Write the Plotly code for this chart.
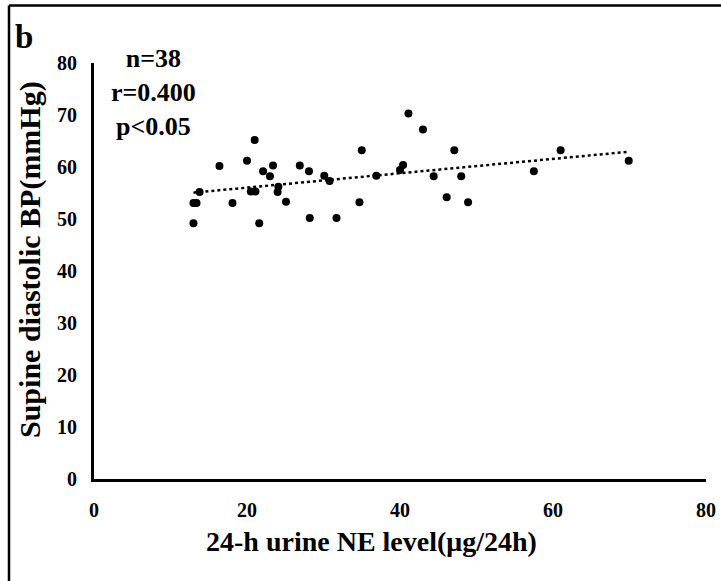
import numpy as np
import plotly.graph_objects as go

# 24-h urine NE (ug/24h) vs supine diastolic BP (mmHg)
ne_level = [21.0, 16.4, 20.0, 22.1, 23.4, 23.0, 26.9, 28.1, 30.1, 30.8,
            35.0, 36.9, 13.8, 13.0, 13.4, 18.1, 20.5, 21.1, 24.1, 24.0,
            25.1, 34.7, 28.2, 31.7, 13.0, 21.6, 41.1, 43.0, 47.1, 40.4,
            40.0, 44.4, 48.0, 46.1, 48.9, 57.5, 61.0, 69.9]
dbp = [65.2, 60.2, 61.2, 59.2, 60.3, 58.2, 60.3, 59.2, 58.3, 57.3,
       63.2, 58.3, 55.2, 53.1, 53.1, 53.1, 55.3, 55.3, 56.2, 55.2,
       53.3, 53.2, 50.2, 50.2, 49.2, 49.2, 70.3, 67.2, 63.2, 60.4,
       59.4, 58.2, 58.2, 54.2, 53.2, 59.2, 63.2, 61.2]

x_ticks = [0, 20, 40, 60, 80]
y_ticks = [0, 10, 20, 30, 40, 50, 60, 70, 80]
stats_text = ['n=38', 'r=0.400', 'p<0.05']

FONT = 'Liberation Serif'

# linear trendline over the data range (like the Excel trendline)
slope, intercept = np.polyfit(ne_level, dbp, 1)
trend_x = [min(ne_level), max(ne_level)]
trend_y = [slope * v + intercept for v in trend_x]

fig = go.Figure()
fig.add_trace(go.Scatter(x=trend_x, y=trend_y, mode='lines',
                         line=dict(color='black', width=2.5, dash='dot'),
                         hoverinfo='skip'))
fig.add_trace(go.Scatter(x=ne_level, y=dbp, mode='markers',
                         marker=dict(color='black', size=8)))

# plot area in pixels: x 94..706, y 63..479
W, H = 721, 581
L, R, T, B = 94, 15, 63, 102
pw, ph = W - L - R, H - T - B

def px(x):
    return (x - L) / pw

def py(y):
    return (H - B - y) / ph

fig.update_layout(
    width=W, height=H,
    margin=dict(l=L, r=R, t=T, b=B, autoexpand=False),
    paper_bgcolor='white', plot_bgcolor='white',
    showlegend=False,
    font=dict(family=FONT, color='black'),
    xaxis=dict(range=[0, 80], tickvals=x_ticks, showgrid=False, zeroline=False,
               showline=True, linecolor='black', linewidth=3, ticks='',
               ticklabelstandoff=11,
               tickfont=dict(family=FONT, size=20, weight='bold')),
    yaxis=dict(range=[0, 80], tickvals=y_ticks, showgrid=False, zeroline=False,
               showline=True, linecolor='black', linewidth=3, ticks='',
               ticklabelstandoff=10,
               tickfont=dict(family=FONT, size=20, weight='bold')),
)

def label(text, x, y, size, **kw):
    fig.add_annotation(text=text, xref='paper', yref='paper', x=px(x), y=py(y),
                       xanchor='center', yanchor='middle', showarrow=False,
                       font=dict(family=FONT, size=size, weight='bold'), **kw)

label('24-h urine NE level(μg/24h)', 371, 541, 28)
label('Supine diastolic BP(mmHg)', 30, 260, 30, textangle=-90)
label('<br>'.join(stats_text), 153, 93, 26, align='center')
label('b', 24, 37, 33)

# frame round the panel (only top and left edges are inside the picture)
fig.add_shape(type='line', xref='paper', yref='paper',
              x0=px(9), x1=px(W + 10), y0=py(5.5), y1=py(5.5),
              line=dict(color='black', width=2.5))
fig.add_shape(type='line', xref='paper', yref='paper',
              x0=px(9), x1=px(9), y0=py(5.5), y1=py(H + 10),
              line=dict(color='black', width=2.5))

fig.write_html('out.html', config={'displayModeBar': False},
               post_script="document.body.style.margin='0';"
                           "document.body.style.overflow='hidden';")
